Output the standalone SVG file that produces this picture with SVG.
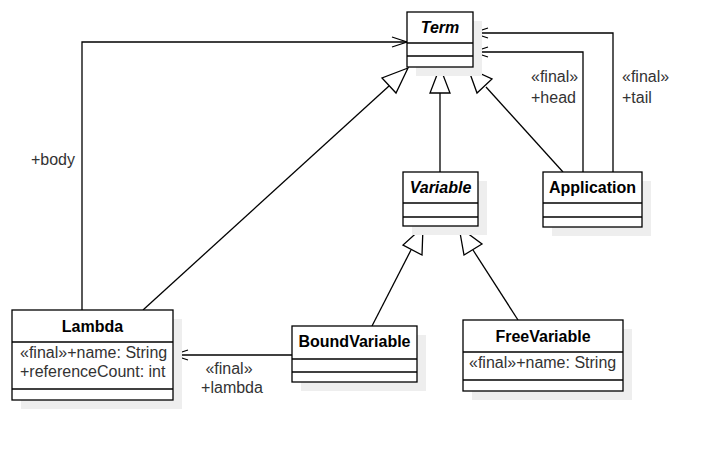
<svg xmlns="http://www.w3.org/2000/svg" width="717" height="450" viewBox="0 0 717 450">
<defs>
<style>
.box{fill:#ffffff;stroke:#000000;stroke-width:1.3}
.shadow{fill:#eeeeee;stroke:none}
.div{stroke:#000000;stroke-width:1.3;fill:none}
.t{font-family:"Liberation Sans",Arial,sans-serif;font-size:16px;fill:#000000}
.title{font-weight:bold;text-anchor:middle}
.it{font-style:italic}
.lbl{font-family:"Liberation Sans",Arial,sans-serif;font-size:16px;fill:#333333}
.edge{fill:none;stroke:#000000;stroke-width:1.3}
.tri{fill:#ffffff;stroke:#000000;stroke-width:1.3}
</style>
</defs>
<rect width="717" height="450" fill="#ffffff"/>

<g id="connectors">
  <!-- body association -->
  <polyline class="edge" points="82,310 82,42 407,42"/>
  <polyline class="edge" points="392,37 407,42 392,47"/>
  <!-- head -->
  <polyline class="edge" points="583,172 583,52 473,52"/>
  <polyline class="edge" points="488,47 473,52 488,57"/>
  <!-- tail -->
  <polyline class="edge" points="613,172 613,33 473,33"/>
  <polyline class="edge" points="488,28 473,33 488,38"/>
  <!-- lambda -->
  <line class="edge" x1="292" y1="355" x2="173" y2="355"/>
  <polyline class="edge" points="188,350 173,355 188,360"/>
  <!-- generalizations -->
  <line class="edge" x1="143" y1="310" x2="389" y2="86"/>
  <polygon class="tri" points="408,68 382,78 396,93"/>
  <line class="edge" x1="440" y1="172" x2="440" y2="93"/>
  <polygon class="tri" points="440,67 430,93 450,93"/>
  <line class="edge" x1="563" y1="172" x2="486" y2="87"/>
  <polygon class="tri" points="468,68 477,93 492,79"/>
  <line class="edge" x1="372" y1="326" x2="411" y2="250"/>
  <polygon class="tri" points="423,227 403,245 422,255"/>
  <line class="edge" x1="518" y1="320" x2="473" y2="250"/>
  <polygon class="tri" points="459,227 464,255 482,244"/>
  <!-- labels -->
  <text class="lbl" x="75" y="165" text-anchor="end">+body</text>
  <text class="lbl" x="531" y="82">«final»</text>
  <text class="lbl" x="531" y="103">+head</text>
  <text class="lbl" x="622" y="82">«final»</text>
  <text class="lbl" x="622" y="103">+tail</text>
  <text class="lbl" x="229" y="374" text-anchor="middle">«final»</text>
  <text class="lbl" x="232" y="393" text-anchor="middle">+lambda</text>
</g>

<g id="Term">
  <rect class="shadow" x="416" y="21" width="66" height="55"/>
  <rect class="box" x="407" y="12" width="66" height="55"/>
  <line class="div" x1="407" y1="43" x2="473" y2="43"/>
  <line class="div" x1="407" y1="56" x2="473" y2="56"/>
  <text class="t title it" x="440" y="33">Term</text>
</g>

<g id="Variable">
  <rect class="shadow" x="412" y="181" width="75" height="54"/>
  <rect class="box" x="403" y="172" width="75" height="54"/>
  <line class="div" x1="403" y1="203" x2="478" y2="203"/>
  <line class="div" x1="403" y1="217" x2="478" y2="217"/>
  <text class="t title it" x="440.5" y="193">Variable</text>
</g>

<g id="Application">
  <rect class="shadow" x="552" y="181" width="99" height="55"/>
  <rect class="box" x="543" y="172" width="99" height="55"/>
  <line class="div" x1="543" y1="203" x2="642" y2="203"/>
  <line class="div" x1="543" y1="217" x2="642" y2="217"/>
  <text class="t title" x="592.5" y="193">Application</text>
</g>

<g id="Lambda">
  <rect class="shadow" x="21" y="319" width="161" height="90"/>
  <rect class="box" x="12" y="310" width="161" height="90"/>
  <line class="div" x1="12" y1="342" x2="173" y2="342"/>
  <line class="div" x1="12" y1="389" x2="173" y2="389"/>
  <text class="t title" x="92.5" y="332">Lambda</text>
  <text class="lbl" x="20" y="358">«final»+name: String</text>
  <text class="lbl" x="20" y="377">+referenceCount: int</text>
</g>

<g id="BoundVariable">
  <rect class="shadow" x="301" y="335" width="125" height="56"/>
  <rect class="box" x="292" y="326" width="125" height="56"/>
  <line class="div" x1="292" y1="359" x2="417" y2="359"/>
  <line class="div" x1="292" y1="372" x2="417" y2="372"/>
  <text class="t title" x="354.5" y="347">BoundVariable</text>
</g>

<g id="FreeVariable">
  <rect class="shadow" x="472" y="329" width="160" height="71"/>
  <rect class="box" x="463" y="320" width="160" height="71"/>
  <line class="div" x1="463" y1="352" x2="623" y2="352"/>
  <line class="div" x1="463" y1="380" x2="623" y2="380"/>
  <text class="t title" x="543" y="342">FreeVariable</text>
  <text class="lbl" x="469" y="368">«final»+name: String</text>
</g>
</svg>
